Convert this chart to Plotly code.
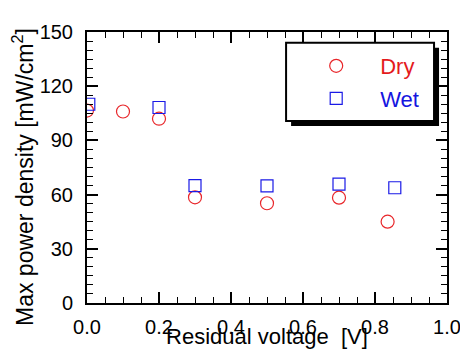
import plotly.graph_objects as go

dry_x = [0.0, 0.10, 0.20, 0.30, 0.50, 0.70, 0.835]
dry_y = [106.5, 106.0, 102.0, 58.5, 55.2, 58.3, 45.0]
wet_x = [0.005, 0.20, 0.30, 0.50, 0.70, 0.855]
wet_y = [110.0, 108.2, 65.0, 64.8, 65.8, 63.8]

x_ticks = [0.0, 0.2, 0.4, 0.6, 0.8, 1.0]
x_ticklabels = ["0.0", "0.2", "0.4", "0.6", "0.8", "1.0"]
y_ticks = [0, 30, 60, 90, 120, 150]

FONT = "Arial, Liberation Sans, Helvetica, sans-serif"

fig = go.Figure()
fig.add_trace(go.Scatter(
    x=dry_x, y=dry_y, mode="markers",
    name="<span style='color:#e41a1c'>Dry</span>",
    legendgroup="dry",
    marker=dict(symbol="circle-open", size=13, color="#e8262a", line=dict(width=1.2)),
))
fig.add_trace(go.Scatter(
    x=wet_x, y=wet_y, mode="markers",
    name="<span style='color:#1515e0'>Wet</span>",
    legendgroup="wet",
    marker=dict(symbol="square-open", size=12, color="#1a1ae6", line=dict(width=1.2)),
))

axis_common = dict(
    showline=True, linecolor="black", linewidth=2, mirror="ticks",
    ticks="inside", tickcolor="black", tickwidth=1.5, ticklen=11,
    showgrid=False, zeroline=False, automargin=False,
    ticklabeloverflow="allow",
    tickfont=dict(family=FONT, size=20, color="black"),
)

fig.update_xaxes(
    range=[0, 1.0], tickmode="array", tickvals=x_ticks, ticktext=x_ticklabels,
    minor=dict(ticks="inside", dtick=0.05, ticklen=6, tickcolor="black", tickwidth=1.2),
    ticklabelstandoff=5,
    title=dict(text="Residual voltage  [V]", font=dict(family=FONT, size=22, color="black"), standoff=0),
    **axis_common,
)
fig.update_yaxes(
    range=[0, 150], tickmode="array", tickvals=y_ticks,
    minor=dict(ticks="inside", dtick=5, ticklen=6, tickcolor="black", tickwidth=1.2),
    ticklabelstandoff=8,
    title=dict(text="Max power density [mW/cm<sup>2</sup>]&nbsp;&nbsp;&nbsp;",
               font=dict(family=FONT, size=23, color="black"), standoff=0),
    **axis_common,
)

# legend frame with drop shadow (paper coords)
x0, x1 = 0.553, 0.964
y0, y1 = 0.672, 0.9605
dx, dy = 5 / 360, 5 / 271
fig.add_shape(type="rect", xref="paper", yref="paper", x0=x0 + dx, x1=x1 + dx, y0=y0 - dy, y1=y1 - dy,
              fillcolor="black", line=dict(color="black", width=0), layer="above")
fig.add_shape(type="rect", xref="paper", yref="paper", x0=x0, x1=x1, y0=y0, y1=y1,
              fillcolor="white", line=dict(color="black", width=2), layer="above")

fig.update_layout(
    width=460, height=349,
    margin=dict(l=87, r=13, t=32, b=46),
    paper_bgcolor="white", plot_bgcolor="white",
    showlegend=True,
    legend=dict(
        x=0.57, y=0.952, xanchor="left", yanchor="top",
        bgcolor="rgba(0,0,0,0)", borderwidth=0,
        font=dict(family=FONT, size=22),
        itemwidth=78, traceorder="grouped", tracegroupgap=1,
    ),
)

fig.write_html("out.html", config={"displayModeBar": False},
               post_script="document.body.style.margin='0';document.body.style.padding='0';")
